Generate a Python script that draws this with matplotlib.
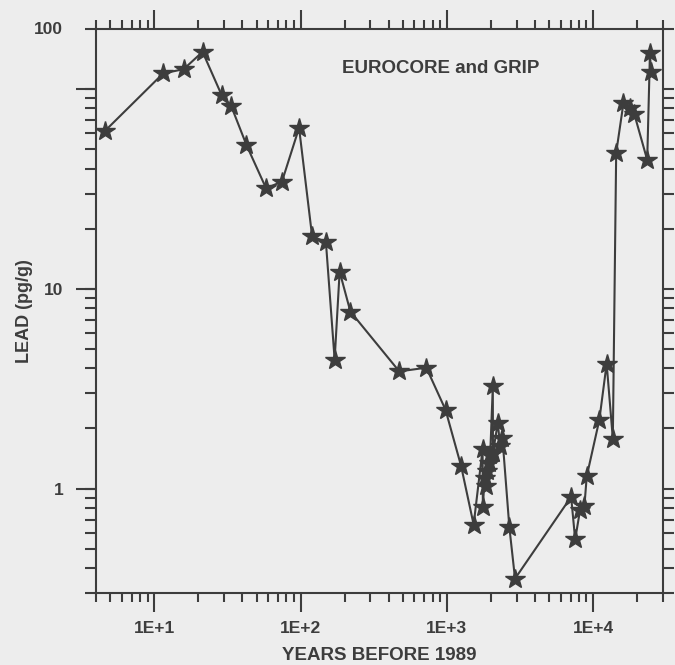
import matplotlib
matplotlib.use("Agg")
import matplotlib.pyplot as plt
from matplotlib.ticker import FixedLocator, NullFormatter

plt.rcParams['font.family'] = ['Liberation Sans', 'DejaVu Sans']
plt.rcParams['font.weight'] = 'bold'

# --- data (years before 1989, lead pg/g) ---
years = [4.6, 11.5, 15.9, 21.4, 28.9, 33.6, 42.7, 58.1, 74.6, 97.7,
         120, 149, 171, 185, 219, 473, 724, 979, 1250, 1524,
         1754, 1762, 1811, 1847, 1876, 1927, 1978, 2061, 2065, 2228,
         2312, 2398, 2674, 2923, 7068, 7530, 8144, 8714, 9036, 11020,
         12360, 13620, 14360, 16100, 17960, 19100, 23400, 24430, 24830]
lead = [61.7, 119.8, 125.9, 153.7, 93.3, 82.2, 52.5, 31.9, 34.4, 64.0,
        18.3, 17.2, 4.42, 12.2, 7.70, 3.86, 4.03, 2.48, 1.30, 0.66,
        1.57, 0.81, 1.135, 1.03, 1.22, 1.35, 1.48, 3.25, 1.51, 2.13,
        1.64, 1.79, 0.64, 0.354, 0.909, 0.556, 0.785, 0.822, 1.152, 2.21,
        4.22, 1.78, 48.0, 85.1, 80.4, 75.0, 44.2, 151.5, 122.0]

ink = '#3d3d3d'
paper = '#ededed'

fig = plt.figure(figsize=(6.75, 6.65), dpi=100, facecolor=paper)
ax = fig.add_axes([96/675, 72/665, 567/675, 564/665], facecolor=paper)

ax.plot(years, lead, color=ink, lw=1.5, marker='*', ms=15,
        mfc=ink, mec=ink, zorder=3)

ax.set_xscale('log')
ax.set_yscale('log')
ax.set_xlim(4, 30000)
ax.set_ylim(0.3, 200)

# ticks
ax.xaxis.set_major_locator(FixedLocator([10, 100, 1000, 10000]))
ax.set_xticklabels(['1E+1', '1E+2', '1E+3', '1E+4'])
xminor = [m * 10**e for e in range(0, 5) for m in range(2, 10)]
ax.xaxis.set_minor_locator(FixedLocator([v for v in xminor if 4 <= v <= 30000]))
ax.xaxis.set_minor_formatter(NullFormatter())

ax.yaxis.set_major_locator(FixedLocator([1, 10, 100]))
ax.set_yticklabels(['1', '10', ''])
yminor = [m * 10**e for e in range(-1, 3) for m in range(1, 10)]
ax.yaxis.set_minor_locator(FixedLocator([v for v in yminor if 0.3 <= v <= 200]))
ax.yaxis.set_minor_formatter(NullFormatter())
ax.yaxis.remove_overlapping_locs = False

ax.tick_params(which='both', direction='out', color=ink, width=1.5,
               top=True, right=True, labelcolor=ink, labelsize=12.5)
ax.tick_params(axis='y', which='major', length=14.4, pad=9)
ax.tick_params(axis='x', which='major', length=13.5, pad=7)
ax.tick_params(axis='x', which='minor', length=6.5)
ax.tick_params(axis='y', which='minor', length=8)
ax.tick_params(axis='y', which='major', right=False)

for s in ax.spines.values():
    s.set_color(ink)
    s.set_linewidth(1.5)

# the "100" label sits at the top of the axis in the original
ax.text(-0.058, 1.0, '100', transform=ax.transAxes, ha='right', va='center',
        fontsize=12.5, fontweight='bold', color=ink)

ax.text(0.434, 0.93, 'EUROCORE and GRIP', transform=ax.transAxes,
        fontsize=13.5, fontweight='bold', color=ink, va='center')

ax.set_xlabel('YEARS BEFORE 1989', fontsize=13.5, fontweight='bold',
              color=ink, labelpad=7.5)
ax.set_ylabel('LEAD (pg/g)', fontsize=13, fontweight='bold',
              color=ink, labelpad=8)

fig.savefig('out.png', dpi=100, facecolor=paper)
